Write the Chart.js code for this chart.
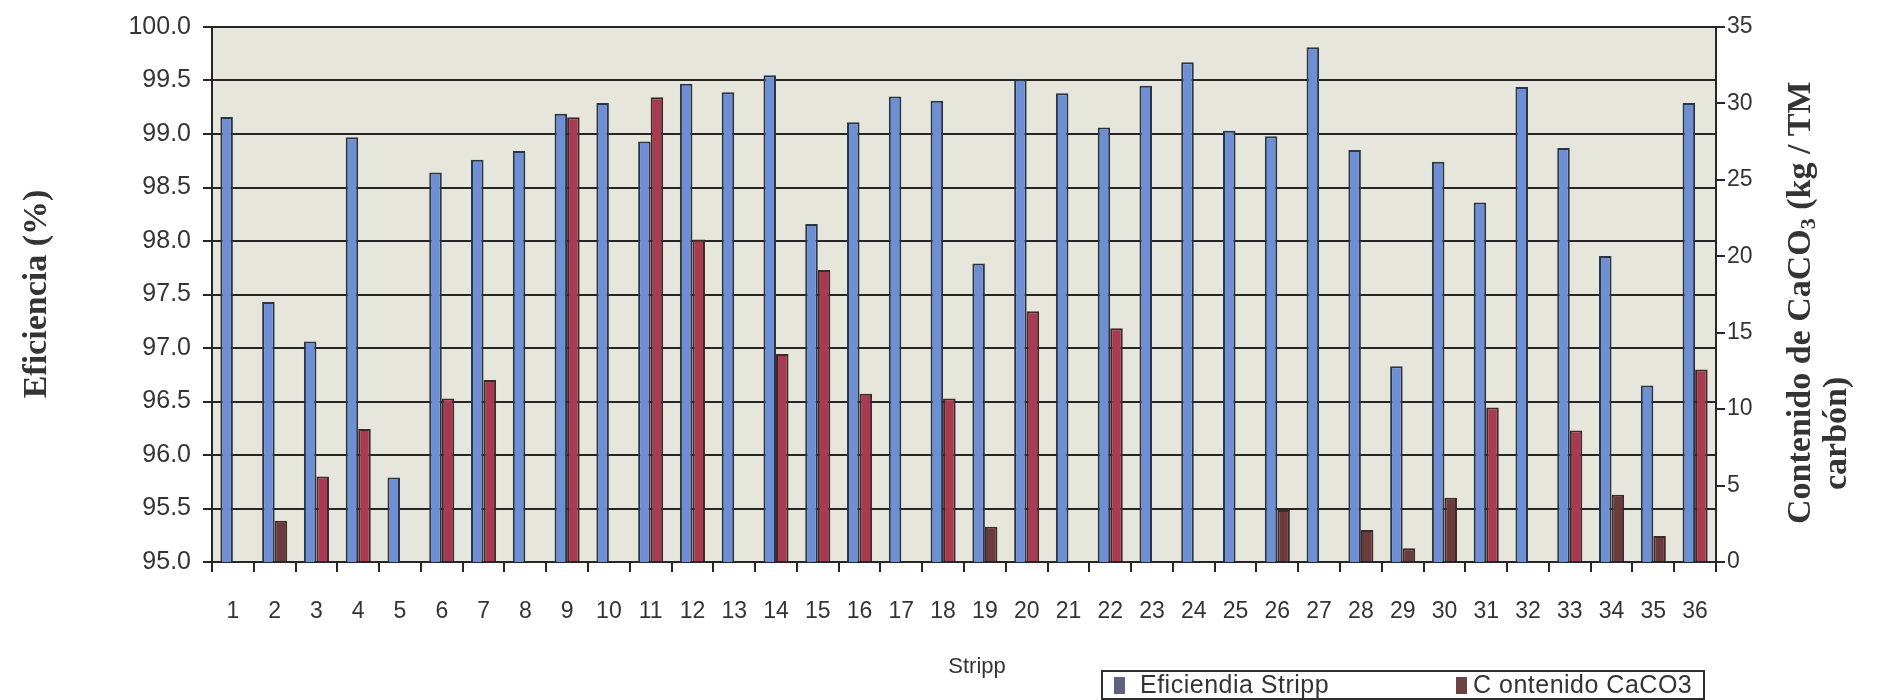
<!DOCTYPE html>
<html>
<head>
<meta charset="utf-8">
<script src="https://cdn.jsdelivr.net/npm/chart.js@4/dist/chart.umd.min.js"></script>
<style>
  html, body { margin: 0; padding: 0; background: #ffffff; }
  #wrap { width: 1895px; height: 700px; }
</style>
</head>
<body>
<div id="wrap"><canvas id="c" width="1895" height="700"></canvas></div>
<script>
// Stripp runs 1..36
const strippLabels = ['1','2','3','4','5','6','7','8','9','10','11','12','13','14','15','16','17','18',
  '19','20','21','22','23','24','25','26','27','28','29','30','31','32','33','34','35','36'];

// Stripping efficiency (%), left axis
const eficienciaStripp = [99.16, 97.43, 97.06, 98.97, 95.79, 98.64, 98.76, 98.84, 99.19, 99.29,
  98.93, 99.47, 99.39, 99.55, 98.16, 99.11, 99.35, 99.31, 97.79, 99.51,
  99.38, 99.06, 99.45, 99.67, 99.03, 98.98, 99.81, 98.85, 96.83, 98.74,
  98.36, 99.44, 98.87, 97.86, 96.65, 99.29];

// CaCO3 content (kg / TM carbón), right axis; null = no measurement
const contenidoCaCO3 = [null, 2.7, 5.6, 8.7, null, 10.7, 11.9, null, 29.1, null,
  30.4, 21.1, null, 13.6, 19.1, 11.0, null, 10.7, 2.3, 16.4,
  null, 15.3, null, null, null, 3.4, null, 2.1, 0.9, 4.2,
  10.1, null, 8.6, 4.4, 1.7, 12.6];

// Axis tick values
const eficienciaTicks = [95.0, 95.5, 96.0, 96.5, 97.0, 97.5, 98.0, 98.5, 99.0, 99.5, 100.0];
const caco3Ticks = [0, 5, 10, 15, 20, 25, 30, 35];

const legendNames = ['Eficiendia Stripp', 'C ontenido CaCO3'];

const INK = '#343434';
const GRID = '#262626';

// light panel behind the bars
const plotBackground = {
  id: 'plotBackground',
  beforeDraw(chart) {
    const { ctx, chartArea: a } = chart;
    ctx.save();
    ctx.fillStyle = '#e6e6dc';
    ctx.fillRect(a.left, a.top, a.right - a.left, a.bottom - a.top);
    ctx.restore();
  }
};

// rotated axis titles and the boxed legend
const chartDecor = {
  id: 'chartDecor',
  afterDraw(chart) {
    const ctx = chart.ctx;
    const a = chart.chartArea;
    ctx.save();
    ctx.fillStyle = INK;

    // left title
    ctx.save();
    ctx.translate(37, 294);
    ctx.rotate(-Math.PI / 2);
    ctx.font = 'bold 34px "Liberation Serif", "Times New Roman", serif';
    ctx.textAlign = 'center';
    ctx.textBaseline = 'middle';
    ctx.fillText('Eficiencia (%)', 0, 0);
    ctx.restore();

    // right title, two lines, with subscript 3
    const parts = [
      { t: 'Contenido de CaCO', f: 'bold 34px "Liberation Serif", serif', dy: 0 },
      { t: '3', f: 'bold 22px "Liberation Serif", serif', dy: 8 },
      { t: ' (kg / TM', f: 'bold 34px "Liberation Serif", serif', dy: 0 }
    ];
    ctx.save();
    ctx.translate(a.right + 85, 524);
    ctx.rotate(-Math.PI / 2);
    ctx.textAlign = 'left';
    ctx.textBaseline = 'middle';
    let px = 0;
    parts.forEach(p => {
      ctx.font = p.f;
      ctx.fillText(p.t, px, p.dy);
      px += ctx.measureText(p.t).width;
    });
    ctx.restore();

    ctx.save();
    ctx.translate(a.right + 121, 490);
    ctx.rotate(-Math.PI / 2);
    ctx.font = 'bold 34px "Liberation Serif", serif';
    ctx.textAlign = 'left';
    ctx.textBaseline = 'middle';
    ctx.fillText('carbón)', 0, 0);
    ctx.restore();

    // x axis title
    ctx.font = '22px "Liberation Sans", Arial, sans-serif';
    ctx.textAlign = 'center';
    ctx.textBaseline = 'middle';
    ctx.fillText('Stripp', 977, 667);

    // legend
    const bx = 1102, by = 671, bw = 602, bh = 28;
    ctx.fillStyle = '#ffffff';
    ctx.fillRect(bx, by, bw, bh);
    ctx.strokeStyle = '#2e2e2e';
    ctx.lineWidth = 2;
    ctx.strokeRect(bx, by, bw, bh);
    const swatch = ['#5f6180', '#6e4244'];
    const itemX = [1114, 1456];
    const textGap = [26, 17];
    ctx.font = '25px "Liberation Sans", Arial, sans-serif';
    if ('letterSpacing' in ctx) ctx.letterSpacing = '0.5px';
    ctx.textAlign = 'left';
    ctx.textBaseline = 'middle';
    chart.data.datasets.forEach((ds, i) => {
      ctx.fillStyle = swatch[i];
      ctx.fillRect(itemX[i], by + 6, 11, 17);
      ctx.fillStyle = INK;
      ctx.fillText(ds.label, itemX[i] + textGap[i], by + 15);
    });
    ctx.restore();
  }
};

new Chart(document.getElementById('c'), {
  type: 'bar',
  data: {
    labels: strippLabels,
    datasets: [
      {
        label: legendNames[0],
        data: eficienciaStripp,
        yAxisID: 'y',
        backgroundColor: '#6f8fd4',
        borderColor: '#2c3642',
        borderWidth: 2,
        borderSkipped: 'bottom'
      },
      {
        label: legendNames[1],
        data: contenidoCaCO3,
        yAxisID: 'y1',
        backgroundColor: ctx => (ctx.raw !== null && ctx.raw < 5 ? '#6c3b3e' : '#a83a52'),
        borderColor: '#3e2a2d',
        borderWidth: 2,
        borderSkipped: 'bottom'
      }
    ]
  },
  options: {
    responsive: false,
    animation: false,
    devicePixelRatio: 1,
    layout: { padding: { top: 26, left: 0, right: 0, bottom: 0 } },
    datasets: { bar: { categoryPercentage: 0.6, barPercentage: 1.0 } },
    plugins: { legend: { display: false }, tooltip: { enabled: false } },
    scales: {
      x: {
        type: 'category',
        grid: { display: true, drawOnChartArea: false, offset: true, tickLength: 10, color: GRID, lineWidth: 2 },
        border: { display: true, color: GRID, width: 2 },
        ticks: { color: INK, font: { family: '"Liberation Sans", Arial, sans-serif', size: 23 }, padding: 26, maxRotation: 0, autoSkip: false },
        afterFit(scale) { scale.height = 138; }
      },
      y: {
        position: 'left',
        min: 95, max: 100,
        afterBuildTicks(scale) { scale.ticks = eficienciaTicks.map(v => ({ value: v })); },
        grid: { display: true, drawOnChartArea: true, color: GRID, lineWidth: 2, tickLength: 9 },
        border: { display: true, color: GRID, width: 2 },
        ticks: {
          color: INK,
          font: { family: '"Liberation Sans", Arial, sans-serif', size: 25 },
          padding: 12,
          callback: v => Number(v).toFixed(1)
        },
        afterFit(scale) { scale.width = 212; }
      },
      y1: {
        position: 'right',
        min: 0, max: 35,
        afterBuildTicks(scale) { scale.ticks = caco3Ticks.map(v => ({ value: v })); },
        grid: { display: true, drawOnChartArea: false, color: GRID, lineWidth: 2, tickLength: 9 },
        border: { display: true, color: GRID, width: 2 },
        ticks: { color: INK, font: { family: '"Liberation Sans", Arial, sans-serif', size: 23 }, padding: 2 },
        afterFit(scale) { scale.width = 179; }
      }
    }
  },
  plugins: [plotBackground, chartDecor]
});
</script>
</body>
</html>
